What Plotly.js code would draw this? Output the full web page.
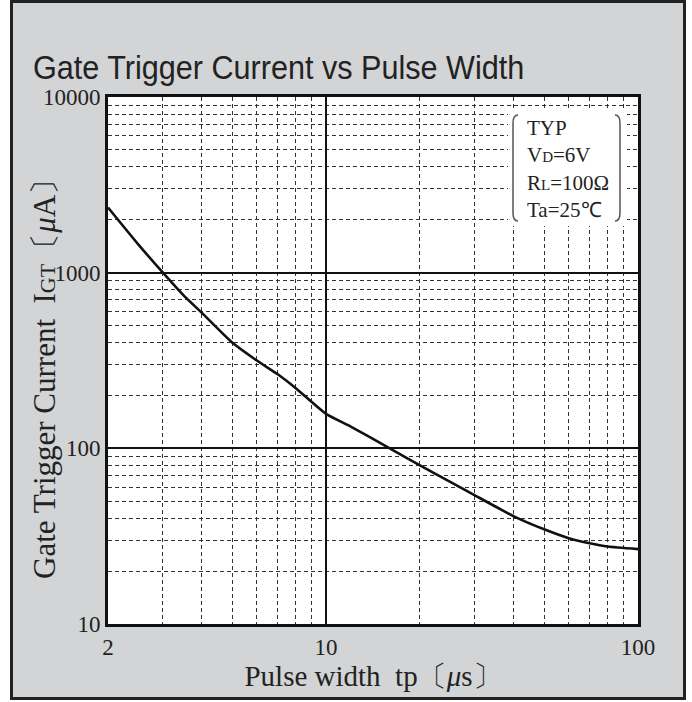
<!DOCTYPE html>
<html>
<head>
<meta charset="utf-8">
<script src="https://cdn.plot.ly/plotly-3.0.1.min.js"></script>
<style>
  html, body { margin:0; padding:0; background:#ffffff; }
  #frame { position:absolute; left:10px; top:0px; width:670px; height:694px; background:#d3d4d6; border:3px solid #222; }
  #chart { position:absolute; left:0; top:0; width:692px; height:702px; }
</style>
</head>
<body>
<div id="frame"></div>
<div id="chart"></div>
<script>
// Data
const pulseWidth = [2, 2.5, 3, 3.5, 4, 5, 6, 7, 8, 10, 12, 16, 20, 25, 30, 40, 50, 60, 70, 80, 100];
const igt        = [2350, 1450, 1000, 740, 590, 400, 316, 264, 220, 157, 133, 100, 80, 64.5, 54, 41, 34.6, 30.8, 28.8, 27.6, 26.7];

// Grid / tick values
const xGrid = [2,3,4,5,6,7,8,9,10,20,30,40,50,60,70,80,90,100];
const xLabels = {2:'2', 10:'10', 100:'100'};
const yGrid = [10,20,30,40,50,60,70,80,90,100,200,300,400,500,600,700,800,900,1000,2000,3000,4000,5000,6000,7000,8000,9000,10000];
const yLabels = {10:'10', 100:'100', 1000:'1000', 10000:'10000'};
const xMajor = [10];
const yMajor = [100, 1000];

const serif = '"Liberation Serif", "Times New Roman", serif';
const xRange = [Math.log10(2), 2];
const yRange = [1, 4];

const curve = {
  x: pulseWidth, y: igt, xaxis: 'x', yaxis: 'y',
  mode: 'lines', line: {color: '#111', width: 2.6, shape: 'spline', smoothing: 0.5},
  hoverinfo: 'skip', showlegend: false
};
// invisible carrier trace so the overlay axes (solid major grid) exist
const carrier = {
  x: pulseWidth, y: igt, xaxis: 'x2', yaxis: 'y2',
  mode: 'lines', line: {color: 'rgba(0,0,0,0)', width: 0}, hoverinfo: 'skip', showlegend: false
};

// condition box geometry (plot-area paper coords)
const W = 530, H = 527, L = 108, T = 97;
const px = v => (v - L) / W;
const py = v => 1 - (v - T) / H;
function bracket(xp, y0, y1, dir) {
  const x = px(xp), xe = px(xp + dir * 5);
  const a = py(y0), b = py(y1), c = py(y0 + 8), d = py(y1 - 8);
  return `M ${xe},${a} Q ${x},${a} ${x},${c} L ${x},${d} Q ${x},${b} ${xe},${b}`;
}

const layout = {
  width: 692, height: 702,
  margin: {l: 108, r: 54, t: 97, b: 78, pad: 0},
  paper_bgcolor: 'rgba(0,0,0,0)',
  plot_bgcolor: '#ffffff',
  showlegend: false,
  title: {
    text: 'Gate Trigger Current vs Pulse Width',
    font: {family: '"Liberation Sans", Arial, sans-serif', size: 34, color: '#222'},
    x: 33/692, xanchor: 'left', xref: 'container',
    y: 1 - 67/702, yanchor: 'middle', yref: 'container'
  },
  xaxis: {
    type: 'log', range: xRange,
    tickvals: xGrid, ticktext: xGrid.map(v => xLabels[v] || ''),
    showgrid: true, gridcolor: '#333', gridwidth: 1, griddash: '4px,3px',
    ticks: '', showline: true, mirror: true, linecolor: '#111', linewidth: 3,
    zeroline: false,
    tickfont: {family: serif, size: 23, color: '#222'},
    title: {text: 'Pulse width  tp〔<i>μ</i>s〕', font: {family: serif, size: 29, color: '#222'}, standoff: 5}
  },
  yaxis: {
    type: 'log', range: yRange,
    tickvals: yGrid, ticktext: yGrid.map(v => yLabels[v] || ''),
    showgrid: true, gridcolor: '#333', gridwidth: 1, griddash: '4px,3px',
    ticks: '', showline: true, mirror: true, linecolor: '#111', linewidth: 3,
    zeroline: false,
    tickfont: {family: serif, size: 23, color: '#222'}
  },
  xaxis2: {
    type: 'log', range: xRange, overlaying: 'x',
    tickvals: xMajor, showticklabels: false, ticks: '',
    showgrid: true, gridcolor: '#111', gridwidth: 2.2, zeroline: false, showline: false
  },
  yaxis2: {
    type: 'log', range: yRange, overlaying: 'y',
    tickvals: yMajor, showticklabels: false, ticks: '',
    showgrid: true, gridcolor: '#111', gridwidth: 2.2, zeroline: false, showline: false
  },
  shapes: [
    {type: 'rect', xref: 'paper', yref: 'paper', x0: px(508), x1: px(627), y0: py(110), y1: py(226),
     fillcolor: '#ffffff', line: {width: 0}, layer: 'above'},
    {type: 'path', xref: 'paper', yref: 'paper', path: bracket(513, 115, 221, 1), line: {color: '#555', width: 1.5}, layer: 'above'},
    {type: 'path', xref: 'paper', yref: 'paper', path: bracket(620, 115, 221, -1), line: {color: '#555', width: 1.5}, layer: 'above'}
  ],
  annotations: [
    {xref: 'paper', yref: 'paper', x: px(525), y: py(114), xanchor: 'left', yanchor: 'top', align: 'left', showarrow: false,
     text: 'TYP<br>V<span style="font-size:15px">D</span>=6V<br>R<span style="font-size:15px">L</span>=100Ω<br>Ta=25℃',
     font: {family: serif, size: 21, color: '#222'}},
    // y-axis title (placed as rotated annotation to sit where the reference puts it)
    {xref: 'paper', yref: 'paper', x: px(44), y: py(372), xanchor: 'center', yanchor: 'middle', textangle: -90, showarrow: false,
     text: 'Gate Trigger Current  I<span style="font-size:22px">GT</span>〔<i>μ</i>A〕',
     font: {family: serif, size: 31, color: '#222'}}
  ]
};

Plotly.newPlot('chart', [curve, carrier], layout, {displayModeBar: false, staticPlot: true}).then(() => {
  // narrow the title horizontally like the reference lettering
  const t = document.querySelector('#chart .gtitle');
  if (t) {
    const s = 0.9, x0 = 33;
    t.setAttribute('transform', `translate(${x0 * (1 - s)},0) scale(${s},1)`);
  }
});
</script>
</body>
</html>
